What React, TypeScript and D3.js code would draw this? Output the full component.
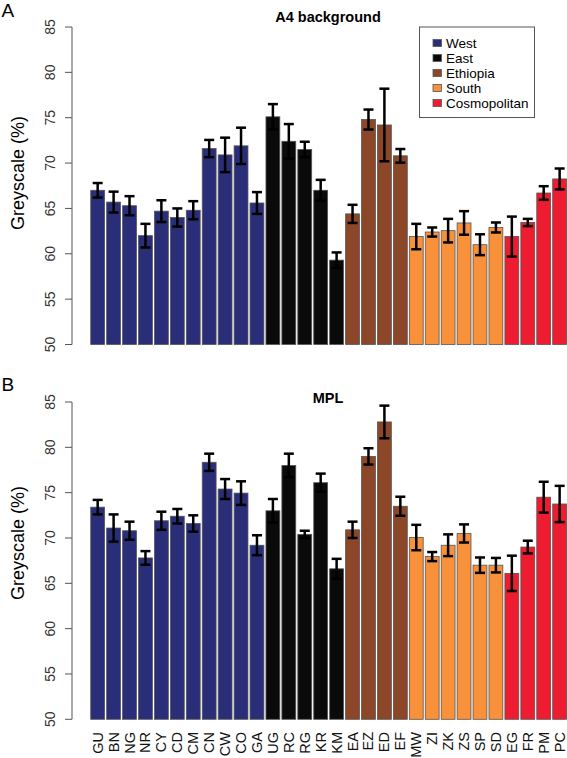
import React from "react";
import * as d3 from "d3";

const categories = ["GU","BN","NG","NR","CY","CD","CM","CN","CW","CO","GA","UG","RC","RG","KR","KM","EA","EZ","ED","EF","MW","ZI","ZK","ZS","SP","SD","EG","FR","PM","PC"];
const groupOf = ["West","West","West","West","West","West","West","West","West","West","West","East","East","East","East","East","Ethiopia","Ethiopia","Ethiopia","Ethiopia","South","South","South","South","South","South","Cosmopolitan","Cosmopolitan","Cosmopolitan","Cosmopolitan"];
const groups = ["West","East","Ethiopia","South","Cosmopolitan"];
const groupColors = ["#2a2d78","#0a0a0a","#8c4628","#f8913a","#ee1c30"];

const a4Values = [67.0,65.7,65.3,62.0,64.7,64.0,64.8,71.6,70.9,71.9,65.6,75.1,72.4,71.5,67.0,59.3,64.4,74.8,74.2,70.8,61.9,62.4,62.55,63.4,61.0,62.9,61.9,63.45,66.7,68.25];
const a4Errors = [0.8,1.15,1.05,1.3,1.2,1.0,1.0,0.95,1.9,2.0,1.2,1.4,1.9,0.85,1.15,0.85,1.0,1.1,4.0,0.75,1.4,0.5,1.3,1.3,1.15,0.55,2.2,0.4,0.75,1.15];
const mplValues = [73.4,71.1,70.8,67.8,71.9,72.4,71.6,78.35,75.4,74.95,69.2,73.0,78.0,70.4,76.1,66.6,70.9,79.0,82.8,73.5,70.05,67.95,69.2,70.5,67.0,67.0,66.1,69.0,74.5,73.75];
const mplErrors = [0.8,1.5,1.0,0.75,1.0,0.8,0.9,0.95,1.1,1.3,1.1,1.3,1.3,0.4,1.0,1.1,0.9,0.9,1.8,1.05,1.4,0.5,1.2,1.0,0.85,0.8,1.95,0.7,1.7,2.0];
const yTicks = [50,55,60,65,70,75,80,85];

const FONT = "'Liberation Sans', Arial, Helvetica, sans-serif";

const x = d3.scaleBand<string>().domain(categories).range([89.7, 567.6]).paddingInner(0.13).paddingOuter(0.065);
const colorScale = d3.scaleOrdinal<string, string>().domain(groups).range(groupColors);

function Panel({ letter, title, values, errors, top, bottom, titleY, letterY, ylabY }: any) {
  const y = d3.scaleLinear().domain([50, 85]).range([bottom, top]);
  const bw = x.bandwidth();
  return (
    <g>
      <text x={1.5} y={letterY} fontSize={19} fontFamily={FONT} fill="#000">{letter}</text>
      <text x={328} y={titleY} fontSize={14.5} fontWeight="bold" textAnchor="middle" fontFamily={FONT} fill="#000">{title}</text>
      <text transform={`translate(24,${ylabY}) rotate(-90)`} fontSize={18} textAnchor="middle" fontFamily={FONT} fill="#000">Greyscale (%)</text>
      <line x1={72} x2={72} y1={y(50)} y2={y(85)} stroke="#555" strokeWidth={1} />
      {yTicks.map((t) => (
        <g key={t}>
          <line x1={65} x2={72} y1={y(t)} y2={y(t)} stroke="#555" strokeWidth={1} />
          <text transform={`translate(55,${y(t)}) rotate(-90)`} fontSize={14} textAnchor="middle" fontFamily={FONT} fill="#333">{t}</text>
        </g>
      ))}
      {categories.map((c, i) => {
        const x0 = x(c) as number;
        const v = values[i];
        return (
          <rect key={c} x={x0} y={y(v)} width={bw} height={y(50) - y(v)} fill={colorScale(groupOf[i])} stroke="#555" strokeWidth={0.8} />
        );
      })}
      {categories.map((c, i) => {
        const cx = (x(c) as number) + bw / 2;
        const v = values[i];
        const e = errors[i];
        return (
          <g key={c + "e"} stroke="#000" strokeWidth={2.5}>
            <line x1={cx} x2={cx} y1={y(v + e)} y2={y(v - e)} />
            <line x1={cx - 5} x2={cx + 5} y1={y(v + e)} y2={y(v + e)} />
            <line x1={cx - 5} x2={cx + 5} y1={y(v - e)} y2={y(v - e)} />
          </g>
        );
      })}
    </g>
  );
}

export default function App() {
  return (
    <svg width={567} height={758} style={{ position: "absolute", left: 0, top: 0, background: "#fff" }}>
      <rect x={0} y={0} width={567} height={758} fill="#fff" />
      <Panel letter="A" title="A4 background" values={a4Values} errors={a4Errors} top={27} bottom={344.5} titleY={21.7} letterY={16.5} ylabY={173} />
      <Panel letter="B" title="MPL" values={mplValues} errors={mplErrors} top={402} bottom={719.3} titleY={403.3} letterY={391} ylabY={543} />
      <g>
        <rect x={419.5} y={27} width={115} height={90.5} fill="#fff" stroke="#555" strokeWidth={1} />
        {groups.map((g, i) => (
          <g key={g}>
            <rect x={433} y={39.5 + i * 15} width={8.5} height={7} fill={groupColors[i]} stroke="#555" strokeWidth={0.8} />
            <text x={446} y={47.5 + i * 15} fontSize={13.5} fontFamily={FONT} fill="#000">{g}</text>
          </g>
        ))}
      </g>
      {categories.map((c) => {
        const cx = (x(c) as number) + x.bandwidth() / 2;
        return (
          <text key={c + "l"} transform={`translate(${cx + 5},732) rotate(-90)`} fontSize={14.5} textAnchor="end" fontFamily={FONT} fill="#111">{c}</text>
        );
      })}
    </svg>
  );
}
